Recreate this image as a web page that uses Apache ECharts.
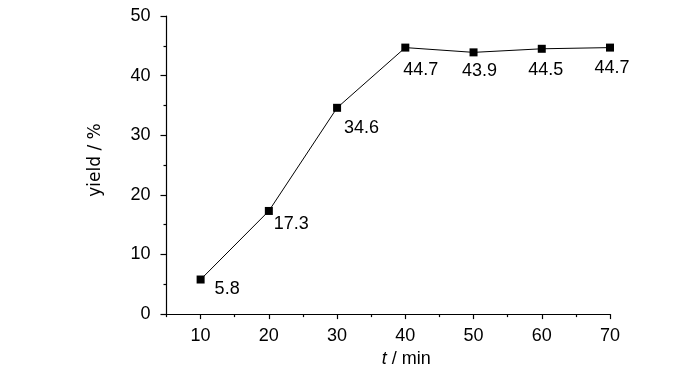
<!DOCTYPE html>
<html>
<head>
<meta charset="utf-8">
<script src="https://cdn.jsdelivr.net/npm/echarts@6/dist/echarts.min.js"></script>
<style>html,body{margin:0;padding:0;background:#fff}#c{width:700px;height:373px}</style>
</head>
<body>
<div id="c"></div>
<script>
// Data
const times = [10, 20, 30, 40, 50, 60, 70];
const yields = [5.8, 17.3, 34.6, 44.7, 43.9, 44.5, 44.7];
const xMajorTicks = [10, 20, 30, 40, 50, 60, 70];
const xMinorTicks = [5, 15, 25, 35, 45, 55, 65];
// label placement (style): [align, dx, dy]
const labelPlacement = [
  ['left', 14, 10], ['left', 5, 13], ['left', 7, 20], ['left', -2, 22],
  ['center', 6, 19], ['center', 4, 21], ['center', 2, 20]
];

const FONT = '"Liberation Sans", Arial, sans-serif';
const FS = 18;
const seriesData = times.map((t, i) => ({
  value: [t, yields[i]],
  label: {
    show: true,
    position: 'inside',
    align: labelPlacement[i][0],
    verticalAlign: 'middle',
    offset: [labelPlacement[i][1], labelPlacement[i][2]],
    formatter: String(yields[i].toFixed(1)),
    color: '#000',
    fontSize: FS,
    fontFamily: FONT
  }
}));

const chart = echarts.init(document.getElementById('c'), null, {renderer: 'canvas'});
chart.setOption({
  animation: false,
  backgroundColor: '#fff',
  grid: {left: 166.5, right: 90, top: 16, bottom: 57, containLabel: false},
  xAxis: [{
    type: 'value', min: 5, max: 70,
    name: '{i|t} / min', nameLocation: 'middle', nameGap: 33,
    nameTextStyle: {
      fontSize: FS, fontFamily: FONT, color: '#000', padding: [0, 0, 0, 36],
      rich: {i: {fontStyle: 'italic', fontSize: FS, fontFamily: FONT, color: '#000'}}
    },
    axisLine: {show: true, lineStyle: {color: '#000', width: 1.2}},
    axisTick: {show: true, length: 5, customValues: xMajorTicks, lineStyle: {color: '#000', width: 1.2}},
    axisLabel: {customValues: xMajorTicks, margin: 13, fontSize: FS, fontFamily: FONT, color: '#000'},
    splitLine: {show: false}
  }, {
    type: 'value', min: 5, max: 70, position: 'bottom',
    axisLine: {show: false},
    axisTick: {show: true, length: 3, customValues: xMinorTicks, lineStyle: {color: '#000', width: 1.2}},
    axisLabel: {show: false},
    splitLine: {show: false}
  }],
  yAxis: {
    type: 'value', min: 0, max: 50, interval: 10,
    name: 'yield / %', nameLocation: 'middle', nameGap: 62,
    nameTextStyle: {fontSize: 17, fontFamily: '"DejaVu Sans", sans-serif', color: '#000', padding: [0, 0, 0, 10]},
    axisLine: {show: true, lineStyle: {color: '#000', width: 1.2}},
    axisTick: {show: true, length: 6, lineStyle: {color: '#000', width: 1.2}},
    minorTick: {show: true, splitNumber: 2, length: 3, lineStyle: {color: '#000', width: 1.2}},
    axisLabel: {margin: 16, fontSize: FS, fontFamily: FONT, color: '#000'},
    splitLine: {show: false}
  },
  series: [{
    type: 'line',
    xAxisIndex: 0,
    data: seriesData,
    symbol: 'rect',
    symbolSize: 8,
    itemStyle: {color: '#000'},
    lineStyle: {color: '#000', width: 1}
  }]
});
</script>
</body>
</html>
